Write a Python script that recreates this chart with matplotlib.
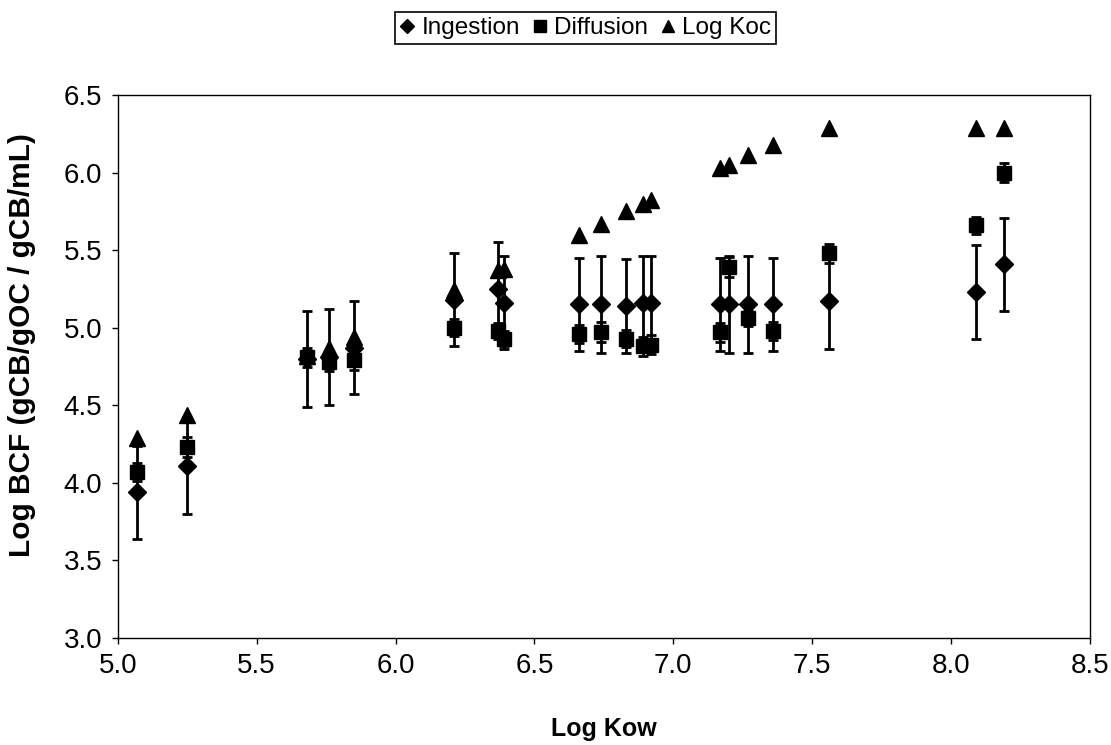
import matplotlib

matplotlib.use("Agg")

import matplotlib.pyplot as plt

# Values
log_kow = [5.07, 5.25, 5.68, 5.76, 5.85, 6.21, 6.37, 6.39, 6.66, 6.74,
           6.83, 6.89, 6.92, 7.17, 7.20, 7.27, 7.36, 7.56, 8.09, 8.19]
ingestion = [3.94, 4.11, 4.80, 4.81, 4.87, 5.18, 5.25, 5.16, 5.15, 5.15,
             5.14, 5.16, 5.16, 5.15, 5.15, 5.15, 5.15, 5.17, 5.23, 5.41]
ingestion_err = [0.30, 0.31, 0.31, 0.31, 0.30, 0.30, 0.30, 0.30, 0.30, 0.31,
                 0.30, 0.30, 0.30, 0.30, 0.31, 0.31, 0.30, 0.31, 0.30, 0.30]
diffusion = [4.07, 4.23, 4.81, 4.78, 4.79, 5.00, 4.98, 4.93, 4.96, 4.97,
             4.93, 4.88, 4.89, 4.97, 5.39, 5.06, 4.98, 5.48, 5.66, 6.00]
diffusion_err = [0.06, 0.065, 0.06, 0.06, 0.06, 0.055, 0.05, 0.05, 0.06, 0.065,
                 0.055, 0.06, 0.06, 0.06, 0.065, 0.05, 0.06, 0.06, 0.055, 0.06]
log_koc = [4.29, 4.44, 4.82, 4.87, 4.94, 5.24, 5.37, 5.38, 5.60, 5.67,
           5.75, 5.80, 5.82, 6.03, 6.05, 6.11, 6.18, 6.29, 6.29, 6.29]

x_ticks = [5.0, 5.5, 6.0, 6.5, 7.0, 7.5, 8.0, 8.5]
y_ticks = [3.0, 3.5, 4.0, 4.5, 5.0, 5.5, 6.0, 6.5]

plt.rcParams["font.family"] = ["Liberation Sans", "DejaVu Sans"]

fig = plt.figure(figsize=(11.11, 7.45), dpi=100)
ax = fig.add_axes([0.106, 0.1436, 0.875, 0.7289])

err_style = dict(ecolor="black", elinewidth=2, capsize=3.5, capthick=2, linestyle="none", color="black")
ing = ax.errorbar(log_kow, ingestion, yerr=ingestion_err, fmt="D", markersize=9, **err_style)
dif = ax.errorbar(log_kow, diffusion, yerr=diffusion_err, fmt="s", markersize=10, **err_style)
koc, = ax.plot(log_kow, log_koc, "^", color="black", markersize=11, linestyle="none")

ax.set_xlim(5.0, 8.5)
ax.set_ylim(3.0, 6.5)
ax.set_xticks(x_ticks)
ax.set_yticks(y_ticks)
ax.set_xticklabels([f"{v:.1f}" for v in x_ticks])
ax.set_yticklabels([f"{v:.1f}" for v in y_ticks])
ax.tick_params(axis="both", direction="out", length=4, width=1, labelsize=20, pad=7)

for spine in ax.spines.values():
    spine.set_color("black")
    spine.set_linewidth(1.0)

ax.set_xlabel("Log Kow", fontsize=18, fontweight="bold", labelpad=27)
ax.set_ylabel("Log BCF (gCB/gOC / gCB/mL)", fontsize=21.5, fontweight="bold")
ax.yaxis.set_label_coords(-0.084, 0.54)

# Legend sits in a box above the plot, one row
leg = fig.legend(
    [ing[0], dif[0], koc], ["Ingestion", "Diffusion", "Log Koc"],
    loc="center", bbox_to_anchor=(0.527, 0.962), ncol=3, fontsize=17.5,
    frameon=True, fancybox=False, framealpha=1, edgecolor="black",
    handlelength=0.6, handletextpad=0.3, columnspacing=0.5,
    borderpad=0.2, markerscale=0.8,
)
leg.get_frame().set_linewidth(1.2)

fig.savefig("out.png", dpi=100)
